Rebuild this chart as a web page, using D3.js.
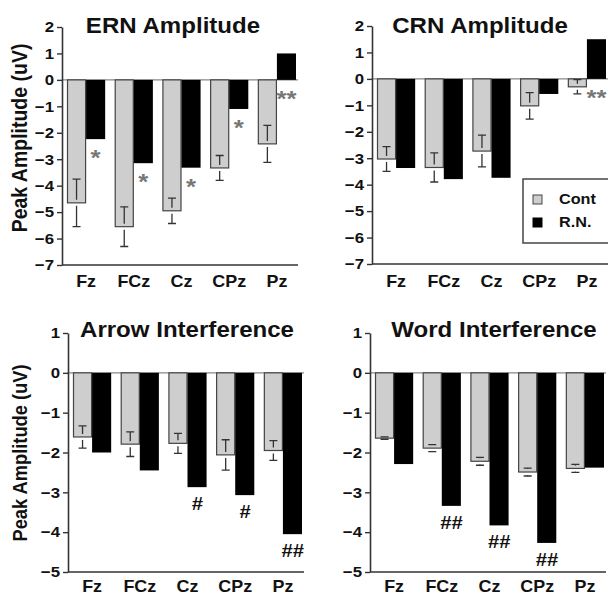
<!DOCTYPE html>
<html>
<head>
<meta charset="utf-8">
<script src="https://cdn.jsdelivr.net/npm/d3@7.9.0/dist/d3.min.js"></script>
<style>
  html, body { margin: 0; padding: 0; background: #fff; }
  svg { display: block; }
  text { font-family: "Liberation Sans", Arial, Helvetica, sans-serif; font-weight: bold; }
</style>
</head>
<body>
<svg id="chart" width="608" height="596"></svg>
<script>
// electrode sites (x categories)
const sites = ['Fz', 'FCz', 'Cz', 'CPz', 'Pz'];
const groups = ['Cont', 'R.N.'];

// ERN amplitude
const ernCont = [-4.65, -5.55, -4.95, -3.33, -2.42];
const ernContErr = [0.9, 0.75, 0.48, 0.47, 0.7];
const ernRN = [-2.24, -3.15, -3.32, -1.1, 1.0];
const ernSig = ['*', '*', '*', '*', '**'];

// CRN amplitude
const crnCont = [-3.03, -3.35, -2.73, -1.02, -0.3];
const crnContErr = [0.47, 0.55, 0.6, 0.5, 0.27];
const crnRN = [-3.37, -3.79, -3.74, -0.57, 1.5];
const crnSig = ['', '', '', '', '**'];

// Arrow interference
const arrowCont = [-1.61, -1.79, -1.77, -2.06, -1.95];
const arrowContErr = [0.28, 0.31, 0.25, 0.38, 0.25];
const arrowRN = [-2.0, -2.45, -2.87, -3.07, -4.05];
const arrowSig = ['', '', '#', '#', '##'];

// Word interference
const wordCont = [-1.64, -1.89, -2.22, -2.49, -2.4];
const wordContErr = [0.03, 0.09, 0.1, 0.1, 0.1];
const wordRN = [-2.29, -3.34, -3.83, -4.27, -2.38];
const wordSig = ['', '##', '##', '##', ''];

const topTicks = [2, 1, 0, -1, -2, -3, -4, -5, -6, -7];
const bottomTicks = [1, 0, -1, -2, -3, -4, -5];

const SX = 1.12; // glyphs in the figure are a bit wider than tall
const contFill = '#cecece';
const axisColor = '#333';

const svg = d3.select('#chart');

const panels = [
  { title: 'ERN Amplitude', cont: ernCont, err: ernContErr, rn: ernRN, sig: ernSig,
    ticks: topTicks, ax: 62, y0: 27, y1: 265, titleX: 173, titleY: 33, catY: 287,
    sigKind: 'star', ylabel: { x: 27, y: 138, size: 19.5 } },
  { title: 'CRN Amplitude', cont: crnCont, err: crnContErr, rn: crnRN, sig: crnSig,
    ticks: topTicks, ax: 372, y0: 26, y1: 264, titleX: 480, titleY: 33, catY: 287,
    sigKind: 'star', legend: true },
  { title: 'Arrow Interference', cont: arrowCont, err: arrowContErr, rn: arrowRN, sig: arrowSig,
    ticks: bottomTicks, ax: 68, y0: 333, y1: 572, titleX: 187, titleY: 337, catY: 592,
    sigKind: 'hash', ylabel: { x: 27, y: 453, size: 18.3 } },
  { title: 'Word Interference', cont: wordCont, err: wordContErr, rn: wordRN, sig: wordSig,
    ticks: bottomTicks, ax: 370, y0: 333, y1: 572, titleX: 494, titleY: 337, catY: 592,
    sigKind: 'hash' }
];

// text that is stretched horizontally like the original figure
function wideText(g, x, y, txt, size, anchor, rotate) {
  return g.append('text')
    .attr('transform', `translate(${x},${y}) scale(${SX},1)${rotate ? ' rotate(-90)' : ''}`)
    .attr('text-anchor', anchor || 'middle')
    .attr('font-size', size)
    .attr('fill', '#111')
    .text(txt);
}

panels.forEach(p => {
  const g = svg.append('g');
  const top = d3.max(p.ticks), bottom = d3.min(p.ticks);
  const y = d3.scaleLinear().domain([bottom, top]).range([p.y1, p.y0]);

  const x0 = d3.scaleBand().domain(sites)
    .range([p.ax + 5, p.ax + 234])
    .paddingInner(0.2).paddingOuter(0);
  const x1 = d3.scaleBand().domain(groups).range([0, x0.bandwidth()]);

  const rows = sites.map((s, i) => ({
    site: s, cont: p.cont[i], err: p.err[i], rn: p.rn[i], sig: p.sig[i]
  }));

  // zero line
  g.append('line')
    .attr('x1', p.ax).attr('x2', p.ax + 236)
    .attr('y1', y(0)).attr('y2', y(0))
    .attr('stroke', '#888').attr('stroke-width', 1.2);

  const site = g.selectAll('g.site').data(rows).join('g')
    .attr('class', 'site')
    .attr('transform', d => `translate(${x0(d.site)},0)`);

  // control bars
  site.append('rect')
    .attr('x', x1('Cont') + 0.5)
    .attr('width', x1.bandwidth() - 1)
    .attr('y', d => y(Math.max(0, d.cont)))
    .attr('height', d => Math.abs(y(d.cont) - y(0)))
    .attr('fill', contFill)
    .attr('stroke', '#444').attr('stroke-width', 1.2);

  // R.N. bars
  site.append('rect')
    .attr('x', x1('R.N.'))
    .attr('width', x1.bandwidth())
    .attr('y', d => y(Math.max(0, d.rn)))
    .attr('height', d => Math.abs(y(d.rn) - y(0)))
    .attr('fill', '#000');

  // error bars on control bars (split around the bar end)
  const gap = 3, cap = 4;
  site.each(function (d) {
    const s = d3.select(this);
    const cx = x1('Cont') + x1.bandwidth() / 2;
    const ym = y(d.cont), yUp = y(d.cont + d.err), yDn = y(d.cont - d.err);
    const path = [];
    if (ym - yUp > gap) path.push(`M${cx},${ym - gap}V${yUp}`);
    path.push(`M${cx - cap},${yUp}H${cx + cap}`);
    if (yDn - ym > gap) path.push(`M${cx},${ym + gap}V${yDn}`);
    path.push(`M${cx - cap},${yDn}H${cx + cap}`);
    s.append('path')
      .attr('d', path.join(''))
      .attr('fill', 'none')
      .attr('stroke', '#333').attr('stroke-width', 1.3);
  });

  // significance markers under the R.N. bars
  const star = p.sigKind === 'star';
  site.filter(d => d.sig).append('text')
    .attr('transform', d => {
      const cx = x1('R.N.') + x1.bandwidth() / 2;
      const base = y(Math.min(0, d.rn));
      return `translate(${cx},${base + (star ? 26 : 23)}) scale(${SX},1)`;
    })
    .attr('text-anchor', 'middle')
    .attr('font-size', star ? 23 : 18)
    .attr('font-style', star ? 'normal' : 'italic')
    .attr('font-weight', 'bold')
    .attr('fill', star ? '#777' : '#111')
    .text(d => d.sig);

  // y axis
  const yAxis = g.append('g')
    .attr('transform', `translate(${p.ax},0)`)
    .call(d3.axisLeft(y).tickValues(p.ticks).tickFormat(d3.format('d'))
      .tickSize(5).tickSizeOuter(0));
  yAxis.select('.domain').attr('stroke', axisColor).attr('stroke-width', 1.6);
  yAxis.selectAll('.tick line').attr('stroke', axisColor).attr('stroke-width', 1.4);
  yAxis.selectAll('.tick text')
    .attr('transform', `scale(${SX},1)`)
    .attr('x', -8 / SX)
    .attr('font-size', 15)
    .attr('font-family', '"Liberation Sans", Arial, sans-serif')
    .attr('font-weight', 'bold')
    .attr('fill', '#111');

  // x axis baseline
  g.append('line')
    .attr('x1', p.ax).attr('x2', p.ax + 236)
    .attr('y1', p.y1).attr('y2', p.y1)
    .attr('stroke', axisColor).attr('stroke-width', 1.6);

  // site labels
  rows.forEach(d => wideText(g, x0(d.site) + x0.bandwidth() / 2, p.catY, d.site, 16));

  // title
  wideText(g, p.titleX, p.titleY, p.title, 21.5);

  // y label
  if (p.ylabel) wideText(g, p.ylabel.x, p.ylabel.y, 'Peak Amplitude (uV)', p.ylabel.size, 'middle', true);

  // legend
  if (p.legend) {
    const lg = g.append('g');
    lg.append('rect')
      .attr('x', 523).attr('y', 179).attr('width', 90).attr('height', 64)
      .attr('fill', '#fff').attr('stroke', '#444').attr('stroke-width', 1.5);
    groups.forEach((k, i) => {
      lg.append('rect')
        .attr('x', 533).attr('y', 195 + i * 23).attr('width', 9).attr('height', 9)
        .attr('fill', k === 'Cont' ? contFill : '#000')
        .attr('stroke', k === 'Cont' ? '#444' : '#000').attr('stroke-width', 1);
      wideText(lg, 559, 204 + i * 23, k, 14.5, 'start');
    });
  }
});
</script>
</body>
</html>
